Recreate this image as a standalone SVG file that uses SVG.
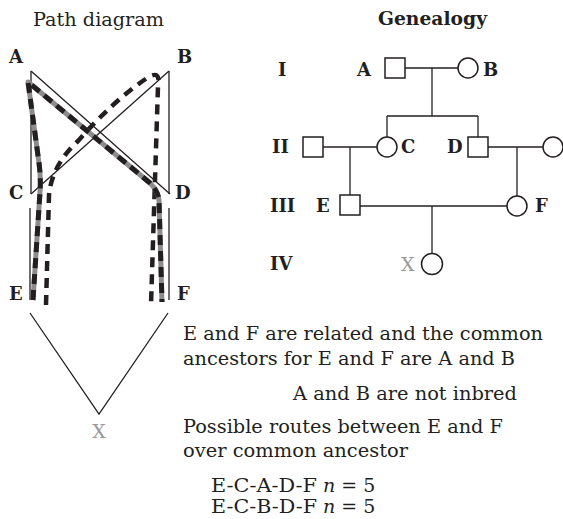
<svg xmlns="http://www.w3.org/2000/svg" width="563" height="519" viewBox="0 0 563 519">
<style>
text{font-family:"DejaVu Serif","Liberation Serif",serif;fill:#231f20}
.t{font-size:19px}
.b{font-size:18px;font-weight:bold}
.g{fill:#999}
.ln{stroke:#231f20;stroke-width:1.3;fill:none}
.sym{stroke:#231f20;stroke-width:1.5;fill:#fff}
.gray{stroke:#8c8c8c;stroke-width:5;fill:none;stroke-linejoin:round}
.dash1{stroke:#231f20;stroke-width:5;fill:none;stroke-dasharray:10 6;stroke-linejoin:round}
.dash2{stroke:#231f20;stroke-width:4.5;fill:none;stroke-dasharray:10 7;stroke-linejoin:round}
</style>
<rect width="563" height="519" fill="#fff"/>

<!-- Titles -->
<text class="t" x="33" y="26" textLength="131" lengthAdjust="spacingAndGlyphs">Path diagram</text>
<text class="b" x="378" y="25" font-size="19" textLength="109" lengthAdjust="spacingAndGlyphs">Genealogy</text>

<!-- Path diagram connectors -->
<g id="path-connectors">
<polyline class="ln" points="31,71 31,194"/>
<line class="ln" x1="31" y1="71" x2="170" y2="194"/>
<polyline class="ln" points="169,71 169,194"/>
<line class="ln" x1="169" y1="71" x2="31" y2="194"/>
<line class="ln" x1="30" y1="208" x2="30" y2="300"/>
<line class="ln" x1="169" y1="208" x2="169" y2="300"/>
<polyline class="ln" points="30,313 99,414 168,313"/>
<path class="dash2" d="M46,305 L49,195 Q52,165 78,141 Q112,102 147,78 Q161,69 158,86 L151,305"/>
<path class="gray" d="M33,300 L40,192 Q41,178 39,163 L28,82 L150,183 Q158,191 159,200 L162,302"/>
<path class="dash1" d="M33,300 L40,192 Q41,178 39,163 L28,82 L150,183 Q158,191 159,200 L162,302"/>
</g>

<!-- Path diagram nodes -->
<g id="path-A"><text class="b" x="9" y="63">A</text></g>
<g id="path-B"><text class="b" x="177" y="63">B</text></g>
<g id="path-C"><text class="b" x="9" y="199">C</text></g>
<g id="path-D"><text class="b" x="175" y="199">D</text></g>
<g id="path-E"><text class="b" x="9" y="300">E</text></g>
<g id="path-F"><text class="b" x="177" y="300">F</text></g>
<g id="path-X"><text class="t g" x="99" y="438" text-anchor="middle">X</text></g>

<!-- Generation labels -->
<g id="gen-labels">
<text class="b" x="278" y="76">I</text>
<text class="b" x="272" y="153">II</text>
<text class="b" x="270" y="212">III</text>
<text class="b" x="270" y="270">IV</text>
</g>

<!-- Genealogy connectors -->
<g id="pedigree-connectors">
<line class="ln" x1="405" y1="68" x2="458" y2="68"/>
<line class="ln" x1="432" y1="68" x2="432" y2="116"/>
<line class="ln" x1="387" y1="116" x2="478" y2="116"/>
<line class="ln" x1="387" y1="116" x2="387" y2="137"/>
<line class="ln" x1="478" y1="116" x2="478" y2="137"/>
<line class="ln" x1="323" y1="147" x2="377" y2="147"/>
<line class="ln" x1="350" y1="147" x2="350" y2="195"/>
<line class="ln" x1="488" y1="147" x2="543" y2="147"/>
<line class="ln" x1="517" y1="147" x2="517" y2="196"/>
<line class="ln" x1="360" y1="206" x2="507" y2="206"/>
<line class="ln" x1="432" y1="206" x2="432" y2="254"/>
</g>

<!-- Genealogy nodes -->
<g id="ped-A"><rect class="sym" x="385" y="58" width="20" height="20"/><text class="b" x="357" y="76">A</text></g>
<g id="ped-B"><circle class="sym" cx="468" cy="68" r="10"/><text class="b" x="483" y="76">B</text></g>
<g id="ped-II-male"><rect class="sym" x="303" y="137" width="20" height="20"/></g>
<g id="ped-C"><circle class="sym" cx="387" cy="147" r="10"/><text class="b" x="401" y="153">C</text></g>
<g id="ped-D"><rect class="sym" x="468" y="137" width="20" height="20"/><text class="b" x="447" y="153">D</text></g>
<g id="ped-II-female"><circle class="sym" cx="553" cy="147" r="10"/></g>
<g id="ped-E"><rect class="sym" x="340" y="195" width="20" height="20"/><text class="b" x="316" y="212">E</text></g>
<g id="ped-F"><circle class="sym" cx="517" cy="206" r="10"/><text class="b" x="535" y="212">F</text></g>
<g id="ped-X"><circle class="sym" cx="432" cy="264" r="10.5"/><text class="t g" x="401" y="271">X</text></g>

<!-- Explanatory text -->
<g id="notes">
<text class="t" x="183" y="340" textLength="360" lengthAdjust="spacingAndGlyphs">E and F are related and the common</text>
<text class="t" x="183" y="365" textLength="332" lengthAdjust="spacingAndGlyphs">ancestors for E and F are A and B</text>
<text class="t" x="293" y="400" textLength="224" lengthAdjust="spacingAndGlyphs">A and B are not inbred</text>
<text class="t" x="183" y="433" textLength="320" lengthAdjust="spacingAndGlyphs">Possible routes between E and F</text>
<text class="t" x="183" y="457" textLength="225" lengthAdjust="spacingAndGlyphs">over common ancestor</text>
<text class="t" x="211" y="492" textLength="106" lengthAdjust="spacingAndGlyphs">E-C-A-D-F</text>
<text class="t" x="323" y="492"><tspan font-style="italic">n</tspan> = 5</text>
<text class="t" x="211" y="513" textLength="106" lengthAdjust="spacingAndGlyphs">E-C-B-D-F</text>
<text class="t" x="323" y="513"><tspan font-style="italic">n</tspan> = 5</text>
</g>
</svg>
